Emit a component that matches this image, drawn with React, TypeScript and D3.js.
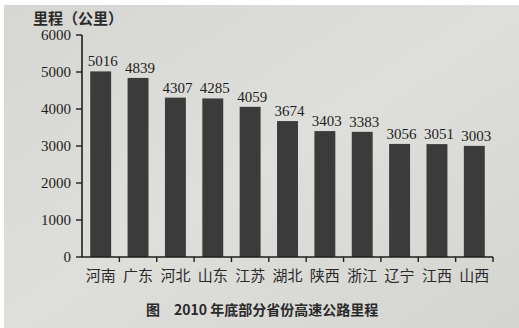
import React from "react";
import * as d3 from "d3";

const provinces = ["河南", "广东", "河北", "山东", "江苏", "湖北", "陕西", "浙江", "辽宁", "江西", "山西"];
const mileage = [5016, 4839, 4307, 4285, 4059, 3674, 3403, 3383, 3056, 3051, 3003];
const yTicks = [0, 1000, 2000, 3000, 4000, 5000, 6000];
const yTitle = "里程（公里）";
const caption = "图　2010 年底部分省份高速公路里程";

const W = 519;
const H = 328;
const left = 82;
const right = 493;
const top = 35;
const bottom = 257;

export default function App() {
  const x = d3.scaleBand<string>().domain(provinces).range([left, right]).paddingInner(0.44).paddingOuter(0.22);
  const xb = d3.scaleBand<string>().domain(provinces).range([left, right]);
  const y = d3.scaleLinear().domain([0, 6000]).range([bottom, top]);
  const serif = "'Liberation Serif', 'DejaVu Serif', serif";
  const cjk = "'Noto Sans CJK SC', sans-serif";
  return (
    <svg width={W} height={H} style={{ position: "absolute", left: 0, top: 0 }}>
      <defs>
        <linearGradient id="paper" x1="0" y1="0" x2="1" y2="1">
          <stop offset="0" stopColor="#d6d6d3" />
          <stop offset="0.5" stopColor="#dededb" />
          <stop offset="1" stopColor="#d4d4d1" />
        </linearGradient>
      </defs>
      <rect x={0} y={0} width={W} height={H} fill="#ffffff" />
      <rect x={4} y={5} width={W - 4} height={H - 5} fill="url(#paper)" />
      <text x={33} y={24} fontFamily={cjk} fontSize={15} fontWeight={700} fill="#2a2a2a">{yTitle}</text>
      {/* y axis */}
      <line x1={left} x2={left} y1={y(6000)} y2={bottom} stroke="#1e1e1e" strokeWidth={1.6} />
      {yTicks.map((t) => (
        <g key={t}>
          <line x1={left - 6} x2={left} y1={y(t)} y2={y(t)} stroke="#1e1e1e" strokeWidth={1.4} />
          <text x={left - 11} y={y(t) + 5} textAnchor="end" fontFamily={serif} fontSize={15} fill="#1e1e1e">{t}</text>
        </g>
      ))}
      {/* bars */}
      {provinces.map((p, i) => (
        <g key={p}>
          <rect x={x(p)} y={y(mileage[i])} width={x.bandwidth()} height={bottom - y(mileage[i])} fill="#3b3b3b" />
          <text x={(x(p) as number) + x.bandwidth() / 2 + 2} y={y(mileage[i]) - 5} textAnchor="middle" fontFamily={serif} fontSize={15} fill="#1e1e1e">{mileage[i]}</text>
          <text x={(x(p) as number) + x.bandwidth() / 2} y={281} textAnchor="middle" fontFamily={cjk} fontSize={15} fill="#2a2a2a">{p}</text>
        </g>
      ))}
      {/* x axis */}
      <line x1={left} x2={right} y1={bottom} y2={bottom} stroke="#1e1e1e" strokeWidth={1.6} />
      {provinces.map((p) => (
        <line key={p} x1={(xb(p) as number) + xb.bandwidth()} x2={(xb(p) as number) + xb.bandwidth()} y1={bottom} y2={bottom + 5} stroke="#1e1e1e" strokeWidth={1.4} />
      ))}
      <text x={146} y={315} fontFamily={cjk} fontSize={14} fontWeight={700} fill="#2a2a2a">{caption}</text>
    </svg>
  );
}
